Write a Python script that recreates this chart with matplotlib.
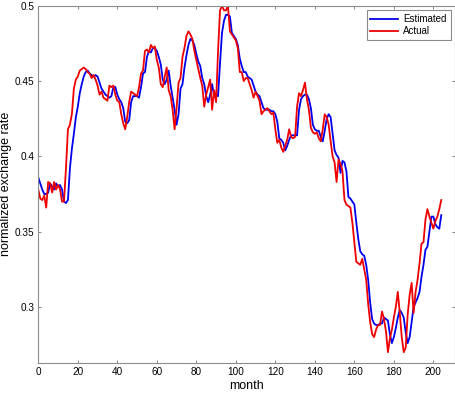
import matplotlib.pyplot as plt
import numpy as np

plt.rcParams['font.family'] = ['Liberation Sans', 'DejaVu Sans']

# ── Data ──────────────────────────────────────────────────────────────────────
actual = [
    0.378, 0.372, 0.371, 0.374, 0.366, 0.383, 0.382, 0.376, 0.383, 0.378,
    0.381, 0.378, 0.370, 0.370, 0.392, 0.418, 0.421, 0.428, 0.445, 0.451,
    0.453, 0.457, 0.458, 0.459, 0.458, 0.456, 0.455, 0.452, 0.454, 0.451,
    0.447, 0.441, 0.443, 0.439, 0.438, 0.437, 0.447, 0.446, 0.447, 0.441,
    0.437, 0.436, 0.428, 0.422, 0.418, 0.426, 0.436, 0.443, 0.442, 0.441,
    0.440, 0.446, 0.455, 0.457, 0.470, 0.471, 0.469, 0.474, 0.472, 0.473,
    0.464, 0.459, 0.448, 0.446, 0.453, 0.459, 0.444, 0.440, 0.431, 0.418,
    0.432, 0.449, 0.452, 0.466, 0.472, 0.480, 0.483, 0.481, 0.478, 0.470,
    0.464, 0.458, 0.452, 0.447, 0.433, 0.441, 0.446, 0.451, 0.431, 0.444,
    0.436, 0.470, 0.497, 0.500, 0.497, 0.497, 0.500, 0.483, 0.481, 0.479,
    0.477, 0.472, 0.456, 0.456, 0.450, 0.452, 0.452, 0.448, 0.444, 0.439,
    0.443, 0.440, 0.437, 0.428, 0.430, 0.431, 0.432, 0.430, 0.428, 0.429,
    0.418, 0.409, 0.411, 0.406, 0.403, 0.407, 0.411, 0.418, 0.413, 0.412,
    0.413, 0.433, 0.442, 0.440, 0.444, 0.449, 0.438, 0.431, 0.419, 0.416,
    0.415, 0.416, 0.412, 0.410, 0.418, 0.428, 0.426, 0.421, 0.410, 0.400,
    0.396, 0.383, 0.398, 0.395, 0.390, 0.371, 0.368, 0.367, 0.366, 0.356,
    0.343, 0.330, 0.329, 0.328, 0.332, 0.325, 0.318, 0.302, 0.290, 0.282,
    0.280, 0.285, 0.288, 0.288, 0.297, 0.292, 0.284, 0.270, 0.279, 0.285,
    0.293, 0.300, 0.310, 0.296, 0.280, 0.270, 0.273, 0.295, 0.308, 0.316,
    0.296, 0.310, 0.318, 0.329, 0.342, 0.343, 0.358, 0.365, 0.360, 0.356,
    0.352, 0.357, 0.360, 0.365, 0.371,
]

estimated = [
    0.386, 0.382, 0.378, 0.375, 0.375, 0.376, 0.382, 0.380, 0.378, 0.382,
    0.380, 0.381, 0.378, 0.370, 0.369, 0.371, 0.392, 0.405, 0.415, 0.426,
    0.433, 0.442, 0.448, 0.453, 0.456, 0.457, 0.455, 0.454, 0.453, 0.454,
    0.453, 0.449, 0.445, 0.443, 0.441, 0.440, 0.439, 0.440, 0.446, 0.446,
    0.441, 0.438, 0.436, 0.432, 0.423, 0.422, 0.424, 0.436, 0.440, 0.440,
    0.440, 0.439, 0.446, 0.455, 0.456, 0.466, 0.470, 0.469, 0.472, 0.472,
    0.470, 0.466, 0.461, 0.451, 0.448, 0.451, 0.457, 0.447, 0.439, 0.431,
    0.421, 0.428, 0.445, 0.448, 0.459, 0.467, 0.474, 0.478, 0.477, 0.474,
    0.468, 0.463, 0.460, 0.452, 0.448, 0.440, 0.436, 0.441, 0.448, 0.440,
    0.441, 0.440, 0.462, 0.482, 0.490, 0.494, 0.494, 0.493, 0.482, 0.480,
    0.478, 0.474, 0.465, 0.460, 0.456, 0.456, 0.453, 0.452, 0.451, 0.447,
    0.443, 0.441, 0.440, 0.436, 0.432, 0.431, 0.431, 0.431, 0.430, 0.430,
    0.428, 0.423, 0.412, 0.411, 0.409, 0.404, 0.407, 0.411, 0.414, 0.414,
    0.414, 0.414, 0.431, 0.438, 0.440, 0.441, 0.441, 0.438, 0.432, 0.421,
    0.418, 0.417, 0.417, 0.413, 0.410, 0.417, 0.425, 0.428, 0.426, 0.415,
    0.404, 0.401, 0.399, 0.389, 0.397, 0.396, 0.390, 0.373, 0.372, 0.370,
    0.368, 0.356, 0.345, 0.337, 0.335, 0.334, 0.328, 0.318, 0.303, 0.292,
    0.289, 0.288, 0.288, 0.289, 0.289, 0.293, 0.292, 0.291, 0.282, 0.276,
    0.280, 0.286, 0.293, 0.298, 0.296, 0.293, 0.283, 0.276, 0.280, 0.290,
    0.300, 0.303, 0.306, 0.310, 0.320, 0.328, 0.338, 0.340, 0.350, 0.360,
    0.360, 0.355, 0.353, 0.352, 0.361,
]

months = np.arange(len(actual))

xticks = [0, 20, 40, 60, 80, 100, 120, 140, 160, 180, 200]
yticks = [0.3, 0.35, 0.4, 0.45, 0.5]
ytick_labels = ["0.3", "0.35", "0.4", "0.45", "0.5"]

# ── Plot ──────────────────────────────────────────────────────────────────────
fig = plt.figure(figsize=(4.56, 3.97), dpi=100)
ax = fig.add_axes([0.084, 0.0864, 0.914, 0.899])

ax.plot(months, estimated, color="#0000ee", linewidth=1.3, label="Estimated")
ax.plot(months, actual, color="#ee0000", linewidth=1.3, label="Actual")

ax.set_xlim(0, 211)
ax.set_ylim(0.263, 0.5)
ax.set_xticks(xticks)
ax.set_yticks(yticks)
ax.set_yticklabels(ytick_labels)

ax.tick_params(direction="in", length=2.5, width=0.6, colors="0.45",
               labelcolor="black", labelsize=7.2, top=True, right=True, pad=3)
for s in ax.spines.values():
    s.set_color("0.55")
    s.set_linewidth(0.8)

ax.set_xlabel("month", fontsize=9, labelpad=2)
ax.set_ylabel("normalized exchange rate", fontsize=9)
ax.yaxis.set_label_coords(-0.062, 0.5)

leg = ax.legend(loc="upper right", fontsize=7, fancybox=False, framealpha=1,
                edgecolor="0.55", handlelength=2.8, borderpad=0.4,
                labelspacing=0.25, handletextpad=0.6, borderaxespad=0.45)
leg.get_frame().set_linewidth(0.8)

plt.savefig("out.png", dpi=100)
